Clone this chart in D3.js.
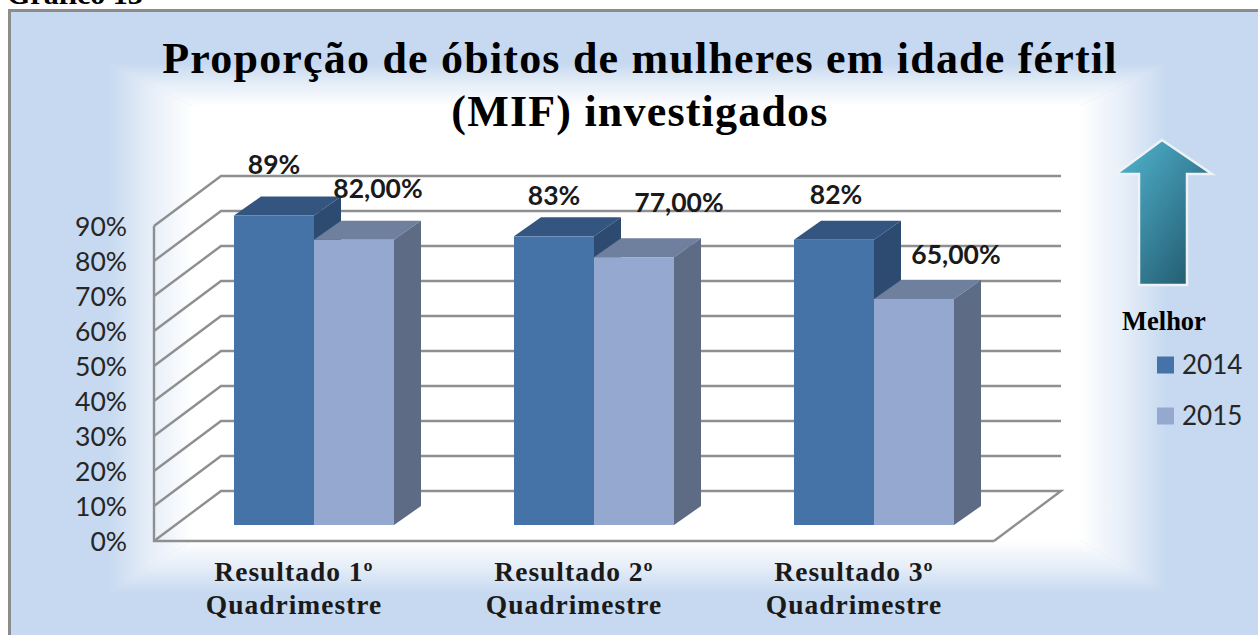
<!DOCTYPE html>
<html><head><meta charset="utf-8">
<script src="https://cdnjs.cloudflare.com/ajax/libs/d3/7.8.5/d3.min.js"></script>
<style>html,body{margin:0;background:#fff;overflow:hidden}svg{display:block}</style>
</head><body><svg id="c" width="1258" height="635"></svg>
<script>
const categories = [["Resultado 1º","Quadrimestre"],["Resultado 2º","Quadrimestre"],["Resultado 3º","Quadrimestre"]];
const seriesNames = ["2014","2015"];
const values2014 = [89,83,82];
const values2015 = [82,77,65];
const labels2014 = ["89%","83%","82%"];
const labels2015 = ["82,00%","77,00%","65,00%"];
const yTicks = [0,10,20,30,40,50,60,70,80,90];
const titleLines = ["Proporção de óbitos de mulheres em idade fértil","(MIF) investigados"];

const svg = d3.select("#c");
const serif = "'Liberation Serif',serif", sans = "Lato,'Open Sans',sans-serif";
const defs = svg.append("defs");
const ag = defs.append("linearGradient").attr("id","arrow").attr("x1",0).attr("y1",0).attr("x2",1).attr("y2",1);
ag.append("stop").attr("offset",0.15).attr("stop-color","#4ba8c2");
ag.append("stop").attr("offset",0.5).attr("stop-color","#38849c");
ag.append("stop").attr("offset",0.95).attr("stop-color","#1f5568");

// frame + rectangular-path background
const blue = "#c6d9f0";
defs.append("clipPath").attr("id","fr").append("rect").attr("x",10).attr("y",11).attr("width",1260).attr("height",640);
svg.append("text").attr("x",7).attr("y",4).attr("font-family",serif).attr("font-weight","bold").attr("font-size",30).text("Gráfico 13");
const bg = svg.append("g").attr("clip-path","url(#fr)");
bg.append("rect").attr("x",10).attr("y",11).attr("width",1260).attr("height",640).attr("fill",blue);
const O = {l:108,t:63,r:1167,b:593}, I = {l:193,t:106,r:1080,b:540};
const edges = [
  {id:"gl",g:[O.l,0,I.l,0],p:[[O.l,O.t],[I.l,I.t],[I.l,I.b],[O.l,O.b]]},
  {id:"gr",g:[O.r,0,I.r,0],p:[[O.r,O.t],[I.r,I.t],[I.r,I.b],[O.r,O.b]]},
  {id:"gt",g:[0,O.t,0,I.t],p:[[O.l,O.t],[O.r,O.t],[I.r,I.t],[I.l,I.t]]},
  {id:"gb",g:[0,O.b,0,I.b],p:[[O.l,O.b],[O.r,O.b],[I.r,I.b],[I.l,I.b]]}
];
edges.forEach(e=>{
  const lg=defs.append("linearGradient").attr("id",e.id).attr("gradientUnits","userSpaceOnUse")
    .attr("x1",e.g[0]).attr("y1",e.g[1]).attr("x2",e.g[2]).attr("y2",e.g[3]);
  lg.append("stop").attr("offset",0).attr("stop-color",blue);
  lg.append("stop").attr("offset",0.5).attr("stop-color","#e6eef8");
  lg.append("stop").attr("offset",1).attr("stop-color","#fff");
  bg.append("path").attr("d",d3.line()(e.p)+"Z").attr("fill",`url(#${e.id})`);
});
bg.append("rect").attr("x",I.l-.5).attr("y",I.t-.5).attr("width",I.r-I.l+1).attr("height",I.b-I.t+1).attr("fill","#fff");
svg.append("path").attr("d","M1260,10.5H9.5V640").attr("fill","none").attr("stroke","#8c8c8c").attr("stroke-width",3);

// geometry of the 3D box
const depth = {x:67, y:-50};
const barDepth = {x:27, y:-19};
const x0 = d3.scaleBand().domain(d3.range(3)).range([154,994]);
const x1 = d3.scaleBand().domain(seriesNames).range([80,240]);
const yWall = d3.scaleLinear().domain([0,90]).range([541,226]);
const yBar = d3.scaleLinear().domain([0,90]).range([525,212]);

const grid = svg.append("g").attr("fill","none").attr("stroke","#8f8f8f").attr("stroke-width",2.4);
grid.selectAll("path.g").data(yTicks).join("path").attr("class","g")
  .attr("d",d=>{const y=yWall(d);
    return `M154,${y}L${154+depth.x},${y+depth.y}H${994+depth.x}` + (d===0?`L994,${y}`:"");});
grid.append("path").attr("d",`M154,${yWall(90)}V${yWall(0)}H994`);

// y axis labels
const axis = svg.append("g").attr("transform","translate(127,1)").call(d3.axisLeft(yWall).tickValues(yTicks).tickSize(0).tickPadding(0).tickFormat(d=>d+"%"));
axis.select(".domain").remove();
axis.selectAll("text").attr("font-family",sans).attr("font-size",26.5).attr("fill","#262626");

// bars
const colors = {"2014":{f:"#4572a7",t:"#345580",s:"#2d4a70"},"2015":{f:"#95a9d0",t:"#6f7f9e",s:"#5d6b85"}};
const rows = [];
categories.forEach((c,i)=>{
  rows.push({i,s:"2014",v:values2014[i],l:labels2014[i]});
  rows.push({i,s:"2015",v:values2015[i],l:labels2015[i]});
});
const bars = svg.append("g").selectAll("g").data(rows).join("g");
bars.each(function(d){
  const g=d3.select(this), c=colors[d.s], xa=x0(d.i)+x1(d.s), xb=xa+x1.bandwidth(), yt=yBar(d.v), yb=yBar(0);
  g.append("path").attr("fill",c.t).attr("d",`M${xa},${yt}l${barDepth.x},${barDepth.y}H${xb+barDepth.x}L${xb},${yt}Z`);
  g.append("path").attr("fill",c.s).attr("d",`M${xb},${yt}l${barDepth.x},${barDepth.y}V${yb+barDepth.y}L${xb},${yb}Z`);
  g.append("rect").attr("x",xa).attr("y",yt).attr("width",x1.bandwidth()).attr("height",yb-yt).attr("fill",c.f);
});
// data labels, nudged clear of neighbouring bars
const nudge = [[0,-32],[24,-32],[0,-22],[45,-35],[2,-26],[42,-25]];
svg.append("g").selectAll("text").data(rows).join("text")
  .attr("x",(d,k)=>x0(d.i)+x1(d.s)+x1.bandwidth()/2+nudge[k][0])
  .attr("y",(d,k)=>yBar(d.v)+barDepth.y+nudge[k][1])
  .attr("dy","0.35em").attr("text-anchor","middle")
  .attr("font-family",sans).attr("font-weight","bold").attr("font-size",26.5).attr("fill","#1a1a1a")
  .text(d=>d.l);

// category labels
const cat = svg.append("g").selectAll("text").data(categories).join("text")
  .attr("text-anchor","middle").attr("font-family",serif).attr("font-weight","bold").attr("font-size",27.5).attr("letter-spacing",1).attr("fill","#1a1a1a");
cat.selectAll("tspan").data((d,i)=>d.map((t,j)=>({t,j,i}))).join("tspan")
  .attr("x",d=>x0(d.i)+x0.bandwidth()/2).attr("y",d=>581+d.j*33).text(d=>d.t);

// title
svg.append("g").selectAll("text").data(titleLines).join("text")
  .attr("x",640).attr("y",(d,i)=>73+i*53).attr("text-anchor","middle")
  .attr("font-family",serif).attr("font-weight","bold").attr("font-size",44).attr("letter-spacing",1.2).attr("fill","#000").text(d=>d);

// arrow
svg.append("path").attr("d","M1116,174L1162,140L1212,174H1187V285H1139V174Z")
  .attr("fill","url(#arrow)").attr("stroke","#eef2f6").attr("stroke-width",2.5).attr("stroke-miterlimit",10);
svg.append("text").attr("x",1122).attr("y",330).attr("font-family",serif).attr("font-weight","bold").attr("font-size",26.5).attr("fill","#000").text("Melhor");

// legend
const lg = svg.append("g").selectAll("g").data(seriesNames).join("g").attr("transform",(d,i)=>`translate(1157,${365+i*51})`);
lg.append("rect").attr("y",-8.5).attr("width",17).attr("height",17).attr("fill",d=>colors[d].f);
lg.append("text").attr("x",25).attr("dy","0.35em").attr("font-family",sans).attr("font-size",26).attr("fill","#262626").text(d=>d);
</script></body></html>
